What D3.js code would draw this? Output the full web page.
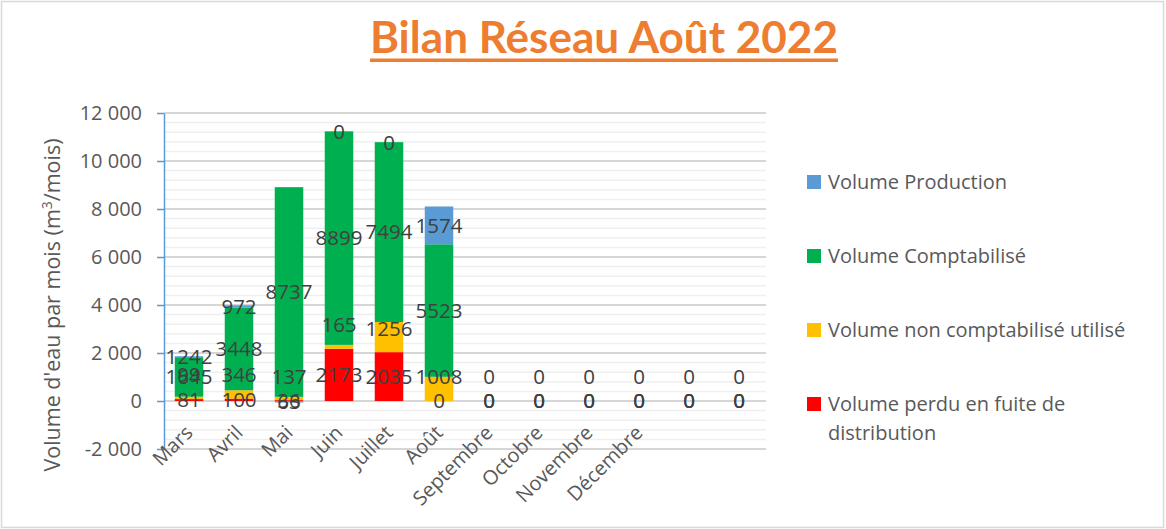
<!DOCTYPE html>
<html>
<head>
<meta charset="utf-8">
<script src="https://cdn.jsdelivr.net/npm/d3@7"></script>
<style>
  html, body { margin: 0; padding: 0; background: #fff; }
  svg { display: block; }
</style>
</head>
<body>
<svg id="chart" width="1166" height="529"></svg>
<script>
// ---------------- DATA ----------------
const categories = ["Mars","Avril","Mai","Juin","Juillet","Août","Septembre","Octobre","Novembre","Décembre","",""];
const perduFuite        = [81, 100, 36, 2173, 2035, 0, 0, 0, 0, 0, 0, 0];
const nonComptaUtilise  = [99, 346, 137, 165, 1256, 1008, 0, 0, 0, 0, 0, 0];
const comptabilise      = [1645, 3448, 8737, 8899, 7494, 5523, 0, 0, 0, 0, 0, 0];
const production        = [40, 90, -63, 0, 0, 1574, 0, 0, 0, 0, 0, 0];
const productionLabels  = ["1242", "972", "63", "0", "0", "1574", "0", "0", "0", "0", "0", "0"];
const yTicks = [-2000, 0, 2000, 4000, 6000, 8000, 10000, 12000];
const seriesNames = ["Volume perdu en fuite de distribution", "Volume non comptabilisé utilisé", "Volume Comptabilisé", "Volume Production"];
const seriesColors = ["#FF0000", "#FFC000", "#00B050", "#5B9BD5"];
const titleText = "Bilan Réseau Août 2022";
const yTitle = "Volume d'eau par mois (m";

// ---------------- SETUP ----------------
const svg = d3.select("#chart");
const W = 1166, H = 529;
const plot = { left: 164, right: 764, top: 113, bottom: 449 };
const frFmt = d3.formatLocale({ decimal: ",", thousands: " ", grouping: [3], currency: ["", " €"], minus: "-" }).format(",.0f");

// border
svg.append("rect").attr("x", 1.5).attr("y", 1.5).attr("width", W - 4).attr("height", H - 3)
  .attr("fill", "#fff").attr("stroke", "#d9d9d9").attr("stroke-width", 1.5);

const x = d3.scaleBand().domain(d3.range(categories.length)).range([plot.left, plot.right])
  .paddingInner(0.43).paddingOuter(0.215);
const y = d3.scaleLinear().domain([-2000, 12000]).range([plot.bottom, plot.top]);

// gridlines (minor then major)
const minorTicks = d3.range(-2000, 12001, 400);
svg.append("g").selectAll("line").data(minorTicks).join("line")
  .attr("x1", plot.left).attr("x2", plot.right + 2)
  .attr("y1", d => y(d)).attr("y2", d => y(d))
  .attr("stroke", "#efefef").attr("stroke-width", 1.5);
svg.append("g").selectAll("line").data(yTicks).join("line")
  .attr("x1", plot.left).attr("x2", plot.right + 2)
  .attr("y1", d => y(d)).attr("y2", d => y(d))
  .attr("stroke", "#d6d6d6").attr("stroke-width", 2);

// ---------------- STACK ----------------
// Excel-like stacking: positives stack upward (zeros sit on top of the positive stack),
// negatives stack downward from zero.
function offsetExcel(series, order) {
  if (!((n = series.length) > 0)) return;
  var n, m = series[order[0]].length;
  for (let j = 0; j < m; ++j) {
    let yp = 0, yn = 0;
    for (let i = 0; i < n; ++i) {
      const d = series[order[i]][j];
      const dy = d[1] - d[0];
      if (dy >= 0) { d[0] = yp; d[1] = yp += dy; }
      else { d[1] = yn; d[0] = yn += dy; }
    }
  }
}
const rows = categories.map((c, i) => ({ i, s0: perduFuite[i], s1: nonComptaUtilise[i], s2: comptabilise[i], s3: production[i] }));
const keys = ["s0", "s1", "s2", "s3"];
const stacked = d3.stack().keys(keys).offset(offsetExcel)(rows);

const barsG = svg.append("g");
stacked.forEach((layer, k) => {
  barsG.append("g").attr("fill", seriesColors[k]).selectAll("rect").data(layer).join("rect")
    .attr("x", d => x(d.data.i))
    .attr("width", x.bandwidth())
    .attr("y", d => y(Math.max(d[0], d[1])))
    .attr("height", d => Math.abs(y(d[0]) - y(d[1])));
});

// ---------------- Y AXIS ----------------
const yAxis = d3.axisLeft(y).tickValues(yTicks).tickFormat(frFmt).tickSize(7).tickSizeOuter(0).tickPadding(15);
const yg = svg.append("g").attr("transform", `translate(${plot.left},0)`).call(yAxis);
yg.select(".domain").attr("stroke", "#5B9BD5").attr("stroke-width", 1.5);
yg.selectAll(".tick line").attr("stroke", "#5B9BD5").attr("stroke-width", 1.5);
yg.selectAll(".tick text").attr("fill", "#595959").attr("font-family", "'Open Sans', sans-serif").attr("font-size", 20);

// Y title
const yt = svg.append("text")
  .attr("transform", "translate(60,305) rotate(-90)")
  .attr("text-anchor", "middle")
  .attr("fill", "#595959").attr("font-family", "'Open Sans', sans-serif").attr("font-size", 21.5);
yt.append("tspan").text(yTitle);
yt.append("tspan").attr("font-size", 14).attr("dy", -8).text("3");
yt.append("tspan").attr("dy", 8).text("/mois)");

// ---------------- X AXIS LABELS ----------------
const xAxis = d3.axisBottom(x).tickFormat(i => categories[i]).tickSize(0);
const xg = svg.append("g").attr("transform", "translate(0,434)").call(xAxis);
xg.select(".domain").remove();
xg.selectAll(".tick text")
  .attr("x", 0).attr("y", 0).attr("dy", 0)
  .attr("text-anchor", "end")
  .attr("transform", "translate(5,0) rotate(-45)")
  .attr("fill", "#595959").attr("font-family", "'Open Sans', sans-serif").attr("font-size", 20);

// ---------------- DATA LABELS ----------------
const lblG = svg.append("g").attr("font-family", "'Open Sans', sans-serif").attr("font-size", 20.5)
  .attr("fill", "#404040").attr("text-anchor", "middle");
const labelTexts = [
  perduFuite.map(String),
  nonComptaUtilise.map(String),
  comptabilise.map(String),
  productionLabels
];
stacked.forEach((layer, k) => {
  lblG.append("g").selectAll("text").data(layer).join("text")
    .attr("x", d => x(d.data.i) + x.bandwidth() / 2)
    .attr("y", d => k === 1 ? y(d[0]) - 24 : (y(d[0]) + y(d[1])) / 2)
    .attr("dy", "0.36em")
    .text(d => labelTexts[k][d.data.i]);
});

// ---------------- LEGEND ----------------
const legendOrder = [3, 2, 1, 0];
const ly = d3.scalePoint().domain(legendOrder).range([182, 404]);
const legG = svg.append("g").attr("font-family", "'Open Sans', sans-serif").attr("font-size", 20).attr("fill", "#595959");
legendOrder.forEach(k => {
  const cy = ly(k);
  legG.append("rect").attr("x", 807).attr("y", cy - 7).attr("width", 14).attr("height", 14).attr("fill", seriesColors[k]);
  const name = seriesNames[k];
  const lines = name === "Volume perdu en fuite de distribution" ? ["Volume perdu en fuite de", "distribution"] : [name];
  const t = legG.append("text").attr("x", 828).attr("y", cy);
  lines.forEach((ln, j) => {
    t.append("tspan").attr("x", 828).attr("dy", j === 0 ? "0.36em" : 29).text(ln);
  });
});

// ---------------- TITLE ----------------
const title = svg.append("text")
  .attr("x", 604).attr("y", 53)
  .attr("text-anchor", "middle")
  .attr("font-family", "Lato, sans-serif").attr("font-weight", "bold").attr("font-size", 43)
  .attr("fill", "#ED7D31")
  .attr("textLength", 468).attr("lengthAdjust", "spacingAndGlyphs")
  .text(titleText);
const bb = title.node().getBBox();
svg.append("rect").attr("x", bb.x).attr("y", 58.5).attr("width", bb.width).attr("height", 3.5).attr("fill", "#ED7D31");
</script>
</body>
</html>
